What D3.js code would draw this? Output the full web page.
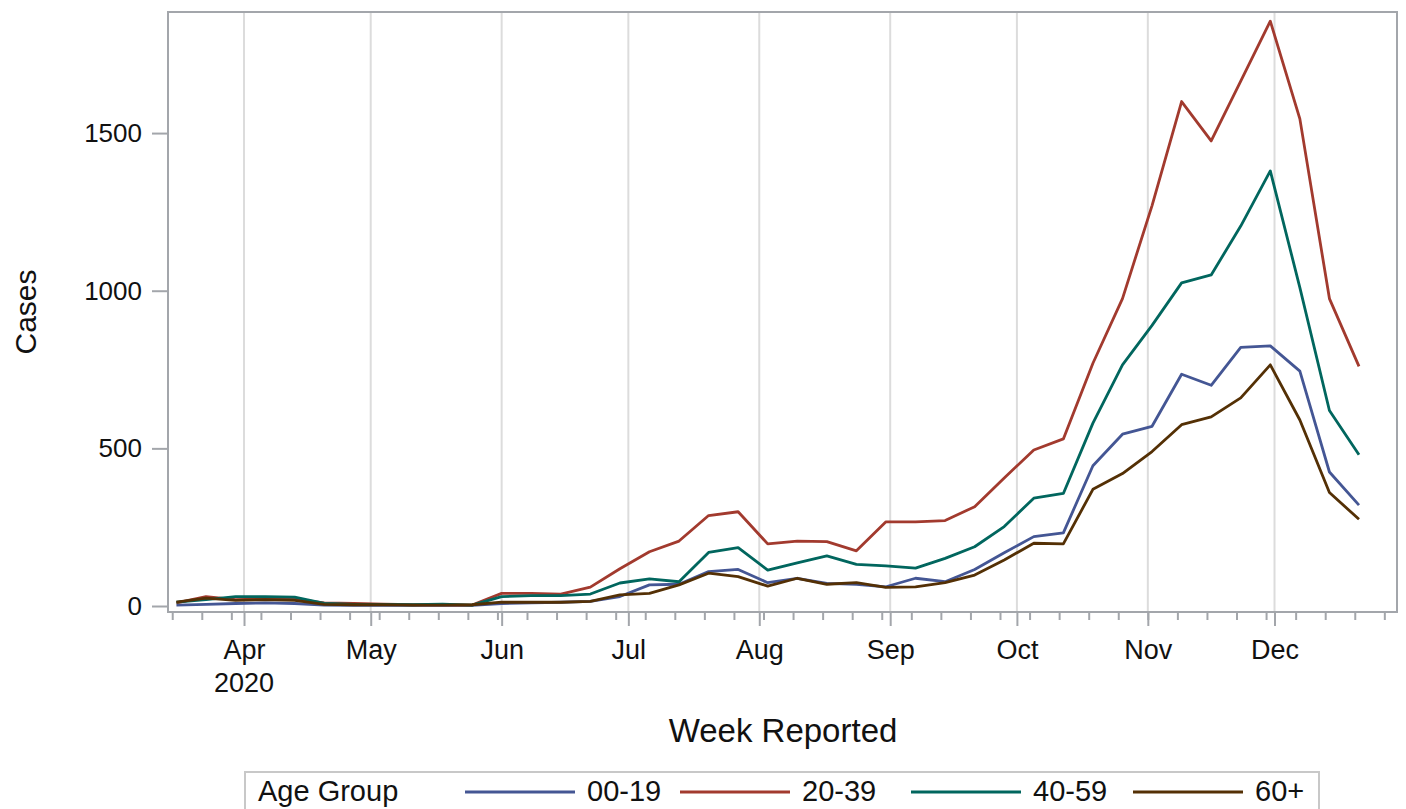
<!DOCTYPE html>
<html>
<head>
<meta charset="utf-8">
<script src="https://cdn.jsdelivr.net/npm/d3@7"></script>
<style>
  html, body { margin: 0; padding: 0; background: #fff; }
  svg { display: block; font-family: "Liberation Sans", Arial, sans-serif; }
</style>
</head>
<body>
<svg id="chart" width="1406" height="809"></svg>
<script>
// weekly report dates (Mondays), Mar 16 - Dec 21 2020
const weekStart = '2020-03-16';
const weekCount = 41;

const ageGroups = ['00-19', '20-39', '40-59', '60+'];
const groupColors = ['#445694', '#A23A2E', '#01665E', '#543005'];

const cases0019 = [3, 5, 8, 10, 8, 3, 2, 2, 2, 2, 2, 8, 10, 12, 15, 30, 67, 69, 109, 116,
  74, 88, 72, 69, 61, 88, 77, 116, 169, 220, 232, 445, 545, 570, 735, 700, 820, 825, 745, 425, 320];
const cases2039 = [10, 30, 20, 22, 22, 10, 8, 6, 4, 4, 3, 40, 40, 38, 60, 118, 172, 206, 287, 299,
  197, 206, 204, 175, 267, 267, 271, 315, 406, 495, 530, 770, 975, 1270, 1600, 1475, 1665, 1855, 1545, 975, 760];
const cases4059 = [12, 20, 30, 30, 28, 8, 5, 5, 4, 6, 3, 30, 33, 33, 38, 73, 86, 77, 170, 185,
  114, 137, 159, 132, 127, 120, 151, 188, 252, 342, 357, 580, 765, 890, 1025, 1050, 1205, 1380, 1010, 620, 480];
const cases60 = [12, 25, 18, 20, 18, 5, 4, 4, 3, 3, 4, 12, 12, 12, 15, 35, 40, 67, 104, 93,
  63, 88, 69, 74, 59, 61, 74, 98, 146, 199, 197, 370, 420, 490, 575, 600, 660, 765, 590, 360, 275];

const yTicks = [0, 500, 1000, 1500];

const parse = d3.timeParse('%Y-%m-%d');
const weeks = d3.range(weekCount).map(i => d3.timeDay.offset(parse(weekStart), i * 7));
const seriesValues = [cases0019, cases2039, cases4059, cases60];

const plot = { left: 168, right: 1397, top: 12, bottom: 612 };
const svg = d3.select('#chart');
const frameColor = '#a3a6ab';

const x = d3.scaleTime()
  .domain([parse('2020-03-14'), parse('2020-12-30')])
  .range([plot.left, plot.right]);
const y = d3.scaleLinear().domain([-19, 1884]).range([plot.bottom, plot.top]);

// vertical grid at month starts
const months = d3.timeMonth.range(parse('2020-04-01'), parse('2020-12-31'));
svg.append('g').selectAll('line')
  .data(months)
  .enter().append('line')
  .attr('x1', d => x(d)).attr('x2', d => x(d))
  .attr('y1', plot.top).attr('y2', plot.bottom)
  .attr('stroke', '#dcdcdc').attr('stroke-width', 2);

// lines
const line = d3.line().x((d, i) => x(weeks[i])).y(d => y(d));
svg.append('g').selectAll('path')
  .data(seriesValues)
  .enter().append('path')
  .attr('d', d => line(d))
  .attr('fill', 'none')
  .attr('stroke', (d, i) => groupColors[i])
  .attr('stroke-width', 2.8)
  .attr('stroke-linejoin', 'round');

// frame
svg.append('rect')
  .attr('x', plot.left).attr('y', plot.top)
  .attr('width', plot.right - plot.left).attr('height', plot.bottom - plot.top)
  .attr('fill', 'none').attr('stroke', frameColor).attr('stroke-width', 2);

// x axis: weekly minor ticks, monthly major ticks
const xMinor = svg.append('g')
  .attr('transform', `translate(0,${plot.bottom})`)
  .call(d3.axisBottom(x).ticks(d3.timeWeek.every(1)).tickSize(8).tickFormat(''));
const xMajor = svg.append('g')
  .attr('transform', `translate(0,${plot.bottom})`)
  .call(d3.axisBottom(x).ticks(d3.timeMonth.every(1)).tickSize(14).tickPadding(14)
    .tickFormat(d3.timeFormat('%b')));
[xMinor, xMajor].forEach(g => {
  g.select('.domain').remove();
  g.selectAll('.tick line').attr('stroke', frameColor).attr('stroke-width', 2);
});
xMajor.selectAll('text').style('font-size', '27px').attr('fill', '#111');
svg.append('text')
  .attr('x', x(parse('2020-04-01'))).attr('y', 692)
  .attr('text-anchor', 'middle')
  .style('font-size', '27px').attr('fill', '#111')
  .text('2020');

// y axis
const yAxis = svg.append('g')
  .attr('transform', `translate(${plot.left},0)`)
  .call(d3.axisLeft(y).tickValues(yTicks).tickSize(16).tickPadding(10).tickFormat(d3.format('d')));
yAxis.select('.domain').remove();
yAxis.selectAll('.tick line').attr('stroke', frameColor).attr('stroke-width', 2);
yAxis.selectAll('text').style('font-size', '26px').attr('fill', '#111');

// axis titles
svg.append('text')
  .attr('transform', 'translate(36,312) rotate(-90)')
  .attr('text-anchor', 'middle')
  .style('font-size', '30px').attr('fill', '#111')
  .text('Cases');
svg.append('text')
  .attr('x', 783).attr('y', 742)
  .attr('text-anchor', 'middle')
  .style('font-size', '33px').attr('fill', '#111')
  .text('Week Reported');

// legend
const legend = svg.append('g');
legend.append('rect')
  .attr('x', 245).attr('y', 772).attr('width', 1074).attr('height', 60)
  .attr('fill', '#fff').attr('stroke', '#c8c8c8').attr('stroke-width', 2);
legend.append('text')
  .attr('x', 258).attr('y', 801)
  .style('font-size', '29px').attr('fill', '#111')
  .text('Age Group');
const itemX = [465, 680, 911, 1133];
ageGroups.forEach((g, i) => {
  legend.append('line')
    .attr('x1', itemX[i]).attr('x2', itemX[i] + 110)
    .attr('y1', 792).attr('y2', 792)
    .attr('stroke', groupColors[i]).attr('stroke-width', 3);
  legend.append('text')
    .attr('x', itemX[i] + 122).attr('y', 801)
    .style('font-size', '29px').attr('fill', '#111')
    .text(g);
});
</script>
</body>
</html>
